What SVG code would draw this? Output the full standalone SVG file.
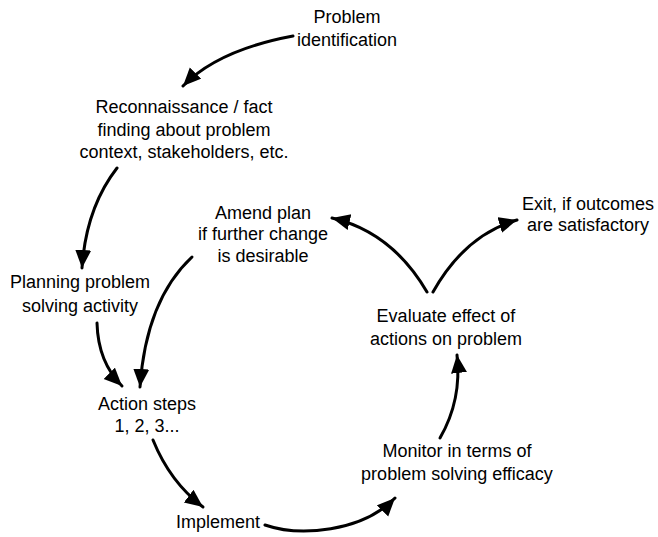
<svg xmlns="http://www.w3.org/2000/svg" width="658" height="537" viewBox="0 0 658 537">
<style>
text{font-family:"Liberation Sans",Arial,sans-serif;font-size:18px;fill:#000;text-anchor:middle}
.c{fill:none;stroke:#000;stroke-width:3;stroke-linecap:round;marker-end:url(#ah)}
</style>
<defs>
<marker id="ah" markerUnits="userSpaceOnUse" markerWidth="19" markerHeight="17" refX="18" refY="8" orient="auto">
<path d="M0,0 L18,8 L0,16 Z" fill="#000"/>
</marker>
</defs>
<rect width="658" height="537" fill="#fff"/>
<g id="connectors">
<path class="c" d="M293,36 Q218,50 183,86"/>
<path class="c" d="M117,168 Q86,208 82,268"/>
<path class="c" d="M192,257 Q146,300 140,387"/>
<path class="c" d="M97,323 Q98,362 122,386"/>
<path class="c" d="M153,440 Q170,482 203,507"/>
<path class="c" d="M265,525 C300,537 362,532 395,498"/>
<path class="c" d="M440,438 Q462,400 457,355"/>
<path class="c" d="M427,292 Q392,232 332,218"/>
<path class="c" d="M433,292 Q465,235 517,220"/>
</g>
<g id="problem-identification"><text x="347" y="23">Problem</text><text x="347" y="46">identification</text></g>
<g id="reconnaissance"><text x="184" y="113">Reconnaissance / fact</text><text x="184" y="136">finding about problem</text><text x="184" y="158">context, stakeholders, etc.</text></g>
<g id="amend-plan"><text x="263" y="219">Amend plan</text><text x="263" y="240">if further change</text><text x="263" y="262">is desirable</text></g>
<g id="exit"><text x="588" y="210">Exit, if outcomes</text><text x="588" y="231">are satisfactory</text></g>
<g id="planning"><text x="80" y="288">Planning problem</text><text x="80" y="312">solving activity</text></g>
<g id="evaluate"><text x="446" y="322">Evaluate effect of</text><text x="446" y="345">actions on problem</text></g>
<g id="action-steps"><text x="147" y="410">Action steps</text><text x="147" y="432">1, 2, 3...</text></g>
<g id="monitor"><text x="457" y="457">Monitor in terms of</text><text x="457" y="480">problem solving efficacy</text></g>
<g id="implement"><text x="218" y="528">Implement</text></g>
</svg>
